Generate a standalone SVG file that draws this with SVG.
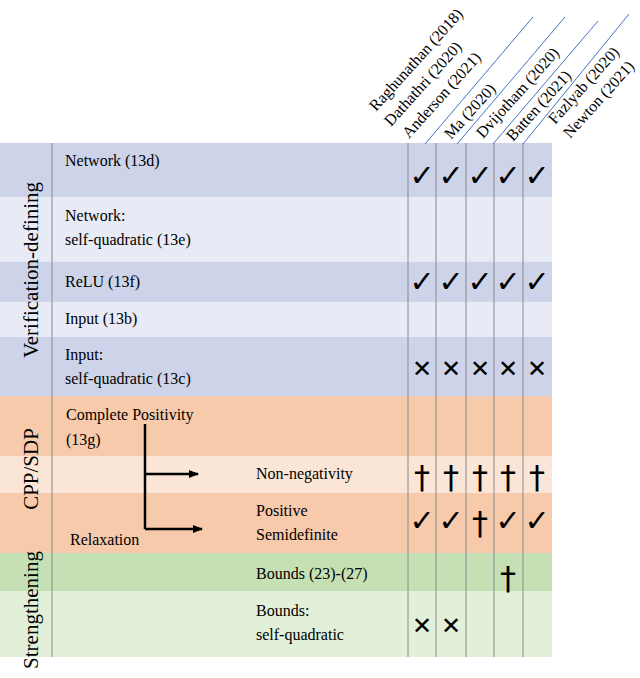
<svg xmlns="http://www.w3.org/2000/svg" width="640" height="678" viewBox="0 0 640 678">
<style>
text{font-family:"Liberation Serif","Times New Roman",serif;font-size:16px;fill:#000}
.side{font-size:21px}
.h{font-size:16px}
.m{font-family:"DejaVu Sans",sans-serif;font-size:30px;text-anchor:middle;font-weight:bold}
.d{font-family:"DejaVu Sans",sans-serif;font-size:32px;text-anchor:middle}
.x{font-family:"DejaVu Sans",sans-serif;font-size:24px;text-anchor:middle}
.v{stroke:#8a8a8a;stroke-width:1}
.diag{stroke:#4472c4;stroke-width:1}
</style>
<defs><marker id="ah" markerWidth="10" markerHeight="8" refX="9" refY="4" orient="auto" markerUnits="userSpaceOnUse"><path d="M0,0 L10,4 L0,8 Z" fill="#000"/></marker></defs>
<g id="rows">
<rect x="0" y="143" width="552" height="54" fill="#cdd4ea"/>
<rect x="0" y="197" width="552" height="65" fill="#e8ebf6"/>
<rect x="0" y="262" width="552" height="40" fill="#cdd4ea"/>
<rect x="0" y="302" width="552" height="35" fill="#e8ebf6"/>
<rect x="0" y="337" width="552" height="59" fill="#cdd4ea"/>
<rect x="0" y="396" width="552" height="60" fill="#f7caab"/>
<rect x="0" y="456" width="552" height="37" fill="#fbe5d6"/>
<rect x="0" y="493" width="552" height="60" fill="#f7caab"/>
<rect x="0" y="553" width="552" height="38" fill="#c5e0b4"/>
<rect x="0" y="591" width="552" height="66" fill="#e2efd9"/>
</g>
<g id="connectors">
<line class="v" x1="52" y1="143" x2="52" y2="657"/>
<line class="v" x1="408" y1="143" x2="408" y2="657"/>
<line class="v" x1="436" y1="143" x2="436" y2="657"/>
<line class="v" x1="466" y1="143" x2="466" y2="657"/>
<line class="v" x1="494" y1="143" x2="494" y2="657"/>
<line class="v" x1="523" y1="143" x2="523" y2="657"/>
<line class="diag" x1="425" y1="144" x2="533" y2="17"/>
<line class="diag" x1="457" y1="144" x2="565" y2="17"/>
<line class="diag" x1="493" y1="144" x2="598" y2="21"/>
<line class="diag" x1="523" y1="144" x2="629" y2="14"/>
<path d="M145,424 V529" stroke="#000" stroke-width="2.5" fill="none"/>
<line x1="145" y1="474" x2="198" y2="474" stroke="#000" stroke-width="2.5" marker-end="url(#ah)"/>
<line x1="145" y1="529" x2="202" y2="529" stroke="#000" stroke-width="2.5" marker-end="url(#ah)"/>
</g>
<g id="headers">
<text class="h" transform="translate(376,112) rotate(-48)">Raghunathan (2018)</text>
<text class="h" transform="translate(391,127) rotate(-48)">Dathathri (2020)</text>
<text class="h" transform="translate(409,139) rotate(-48)">Anderson (2021)</text>
<text class="h" transform="translate(451,140) rotate(-48)">Ma (2020)</text>
<text class="h" transform="translate(483,139) rotate(-48)">Dvijotham (2020)</text>
<text class="h" transform="translate(513,142) rotate(-48)">Batten (2021)</text>
<text class="h" transform="translate(555,125) rotate(-48)">Fazlyab (2020)</text>
<text class="h" transform="translate(570,139) rotate(-48)">Newton (2021)</text>
</g>
<g id="labels">
<text class="side" transform="translate(38,270) rotate(-90)" text-anchor="middle">Verification-defining</text>
<text class="side" transform="translate(38,469) rotate(-90)" text-anchor="middle">CPP/SDP</text>
<text class="side" transform="translate(38,610) rotate(-90)" text-anchor="middle">Strengthening</text>
<text x="65" y="166">Network (13d)</text>
<text x="65" y="221">Network:</text>
<text x="65" y="245">self-quadratic (13e)</text>
<text x="65" y="287">ReLU (13f)</text>
<text x="65" y="324">Input (13b)</text>
<text x="65" y="360">Input:</text>
<text x="65" y="384">self-quadratic (13c)</text>
<text x="66" y="420">Complete Positivity</text>
<text x="66" y="445">(13g)</text>
<text x="70" y="545">Relaxation</text>
<text x="256" y="479">Non-negativity</text>
<text x="256" y="516">Positive</text>
<text x="256" y="540">Semidefinite</text>
<text x="256" y="579">Bounds (23)-(27)</text>
<text x="256" y="616">Bounds:</text>
<text x="256" y="640">self-quadratic</text>
</g>
<g id="marks">
<text class="m" x="422" y="186">✓</text><text class="m" x="451" y="186">✓</text><text class="m" x="480" y="186">✓</text><text class="m" x="508" y="186">✓</text><text class="m" x="537" y="186">✓</text>
<text class="m" x="422" y="292">✓</text><text class="m" x="451" y="292">✓</text><text class="m" x="480" y="292">✓</text><text class="m" x="508" y="292">✓</text><text class="m" x="537" y="292">✓</text>
<text class="x" x="422" y="377">✕</text><text class="x" x="451" y="377">✕</text><text class="x" x="480" y="377">✕</text><text class="x" x="508" y="377">✕</text><text class="x" x="537" y="377">✕</text>
<text class="d" x="422" y="488">†</text><text class="d" x="451" y="488">†</text><text class="d" x="480" y="488">†</text><text class="d" x="508" y="488">†</text><text class="d" x="537" y="488">†</text>
<text class="m" x="422" y="531">✓</text><text class="m" x="451" y="531">✓</text><text class="d" x="480" y="534">†</text><text class="m" x="508" y="531">✓</text><text class="m" x="537" y="531">✓</text>
<text class="d" x="508" y="589">†</text>
<text class="x" x="422" y="634">✕</text><text class="x" x="451" y="634">✕</text>
</g>
</svg>
